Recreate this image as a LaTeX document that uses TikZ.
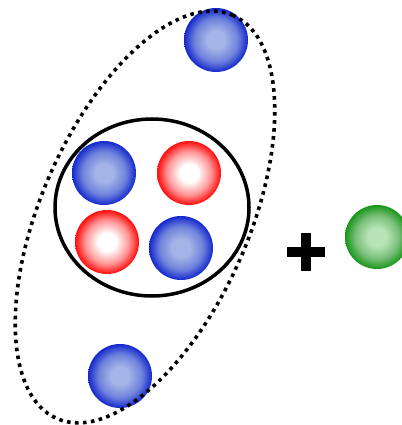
\documentclass[tikz,border=0pt]{standalone}
\usetikzlibrary{shapes.geometric}
\definecolor{bluein}{RGB}{165,180,230}
\definecolor{bluemid}{RGB}{110,130,220}
\definecolor{blueout}{RGB}{20,40,205}
\definecolor{redin}{RGB}{255,255,255}
\definecolor{redmid}{RGB}{255,150,150}
\definecolor{redout}{RGB}{255,20,20}
\definecolor{greenin}{RGB}{185,228,185}
\definecolor{greenmid}{RGB}{120,190,120}
\definecolor{greenout}{RGB}{25,150,25}
\pgfdeclareradialshading{blueball}{\pgfpoint{0bp}{0bp}}{color(0bp)=(bluein);color(7bp)=(bluein);color(17bp)=(bluemid);color(25bp)=(blueout);color(50bp)=(blueout)}
\pgfdeclareradialshading{redball}{\pgfpoint{0bp}{0bp}}{color(0bp)=(redin);color(7bp)=(redin);color(17bp)=(redmid);color(24.5bp)=(redout);color(50bp)=(redout)}
\pgfdeclareradialshading{greenball}{\pgfpoint{0bp}{0bp}}{color(0bp)=(greenin);color(7bp)=(greenin);color(17bp)=(greenmid);color(25bp)=(greenout);color(50bp)=(greenout)}
\tikzset{
  ball/.style={circle, minimum size=64pt, inner sep=0pt},
  neutron/.style={ball, shading=blueball},
  proton/.style={ball, shading=redball},
  photon/.style={ball, shading=greenball},
  orbit/.style={draw, line width=3.6pt, dash pattern=on 3.6pt off 4.4pt},
  core/.style={draw, line width=3.5pt}
}
\begin{document}
\begin{tikzpicture}[x=1pt,y=-1pt]
\useasboundingbox (0,0) rectangle (401,425);
\node[neutron] (n1) at (216,40) {};
\node[neutron] (n2) at (104,173) {};
\node[proton]  (p1) at (189,173) {};
\node[proton]  (p2) at (107,242) {};
\node[neutron] (n3) at (181,248) {};
\node[neutron] (n4) at (120,376) {};
\node[photon]  (g)  at (377,237) {};
\node[core, ellipse, minimum width=194pt, minimum height=177pt, inner sep=0pt] (nuc) at (152,207.5) {};
\node[orbit, ellipse, minimum width=440pt, minimum height=208pt, inner sep=0pt, rotate=66.4] (orb) at (145,217) {};
\node[inner sep=0pt] (plus) at (306,252) {};
\fill (plus) ++(-19,-5) rectangle ++(38,10);
\fill (plus) ++(-5,-19) rectangle ++(10,38);
\end{tikzpicture}
\end{document}
